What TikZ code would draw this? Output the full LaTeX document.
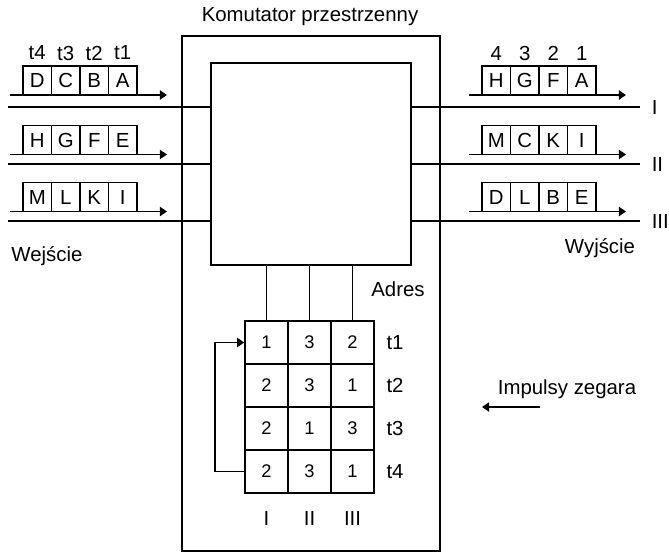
\documentclass[tikz,border=0pt]{standalone}
\usepackage{fontspec}
\setmainfont{Liberation Sans}
\usetikzlibrary{arrows.meta,positioning}

\tikzset{
  znak/.style={draw,minimum width=0.71cm,minimum height=0.72cm,inner sep=0pt},
  komorka/.style={draw,minimum size=1.075cm,inner sep=0pt,font=\fontsize{13}{15}\selectfont},
  strzalka/.style={-{Triangle[length=5pt,width=6.5pt]}},
}

\begin{document}
\begin{tikzpicture}[x=0.025cm,y=-0.025cm,line width=1.1pt,
    font=\fontsize{14.5}{16}\selectfont]
  \useasboundingbox (0,0) rectangle (669,552);
  % switch housing and switching field
  \node[draw,minimum width=6.45cm,minimum height=12.875cm,anchor=north west]
    (komutator) at (181,35) {};
  \node[draw,minimum width=5cm,minimum height=5.05cm,anchor=north west]
    (pole) at (210,62) {};
  \node (tytul) at (310,17) {Komutator przestrzenny};
  % input and output lines
  \foreach \y/\nr/\lab in {107/1/I,164/2/II,221/3/III}{
    \coordinate (we\nr) at (8,\y);
    \coordinate (wy\nr) at (640,\y);
    \draw (we\nr) -- (we\nr -| pole.west);
    \draw (pole.east |- wy\nr) -- (wy\nr);
    \node[anchor=west,inner sep=0pt] (nr\nr) at (651,\y) {\lab};
  }
  % time slots on the inputs
  \foreach \y/\nr/\a/\b/\c/\d in {80.5/1/D/C/B/A,140/2/H/G/F/E,197/3/M/L/K/I}{
    \coordinate (ws\nr) at (10,\y+14.5);
    \coordinate (wk\nr) at (167,\y+14.5);
    \draw[strzalka] (ws\nr) -- (wk\nr);
    \foreach \x/\k/\z in {37.25/1/\a,65.75/2/\b,94.25/3/\c,122.75/4/\d}
      \node[znak] (we\nr-\k) at (\x,\y) {\z};
  }
  \foreach \x/\lab in {37.25/t4,65.75/t3,94.25/t2,122.75/t1}
    \node (ts\lab) at (\x,53) {\lab};
  % time slots on the outputs
  \foreach \y/\nr/\a/\b/\c/\d in {80.5/1/H/G/F/A,140/2/M/C/K/I,197/3/D/L/B/E}{
    \coordinate (ys\nr) at (469,\y+14.5);
    \coordinate (yk\nr) at (626,\y+14.5);
    \draw[strzalka] (ys\nr) -- (yk\nr);
    \foreach \x/\k/\z in {496.25/1/\a,524.75/2/\b,553.25/3/\c,581.75/4/\d}
      \node[znak] (wy\nr-\k) at (\x,\y) {\z};
  }
  \foreach \x/\lab in {496.25/4,524.75/3,553.25/2,581.75/1}
    \node (ys\lab) at (\x,53) {\lab};
  \node[anchor=west] (wejscie) at (6,256) {Wejście};
  \node (wyjscie) at (600,248) {Wyjście};
  % address memory
  \foreach \r/\p/\q/\s in {1/1/3/2,2/2/3/1,3/2/1/3,4/2/3/1}{
    \foreach \k/\v in {1/\p,2/\q,3/\s}
      \node[komorka] (k\r-\k) at (266.5+43*\k-43,342.5+43*\r-43) {\v};
    \node (t\r) at (395,342.5+43*\r-43) {t\r};
  }
  \foreach \k/\lab in {1/I,2/II,3/III}{
    \draw (k1-\k.north) -- (k1-\k.north |- pole.south);
    \node (kol\k) at (266.5+43*\k-43,518) {\lab};
  }
  \node (adres) at (398,289) {Adres};
  \draw[strzalka] (k4-1.west) -- ++(-29,0) |- (k1-1.west);
  % clock
  \node (zegar) at (567,389) {Impulsy zegara};
  \coordinate (zs) at (540,407);
  \coordinate (zk) at (482,407);
  \draw[strzalka] (zs) -- (zk);
\end{tikzpicture}
\end{document}
